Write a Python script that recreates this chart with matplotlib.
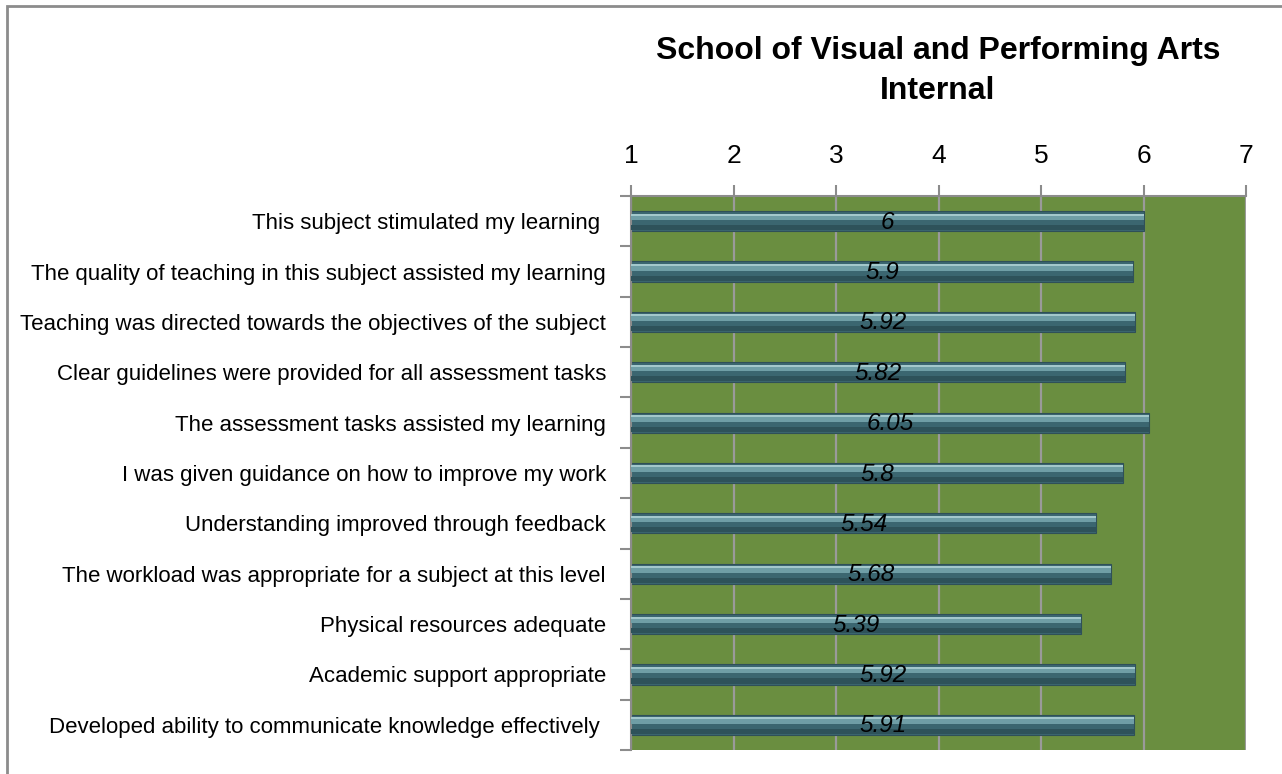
import numpy as np
import matplotlib
matplotlib.use('Agg')
import matplotlib.pyplot as plt
from matplotlib.patches import Rectangle

plt.rcParams['font.family'] = ['Liberation Sans', 'DejaVu Sans']

# data
questions = ['This subject stimulated my learning ',
             'The quality of teaching in this subject assisted my learning',
             'Teaching was directed towards the objectives of the subject',
             'Clear guidelines were provided for all assessment tasks',
             'The assessment tasks assisted my learning',
             'I was given guidance on how to improve my work',
             'Understanding improved through feedback',
             'The workload was appropriate for a subject at this level',
             'Physical resources adequate',
             'Academic support appropriate',
             'Developed ability to communicate knowledge effectively ']
scores = [6, 5.9, 5.92, 5.82, 6.05, 5.8, 5.54, 5.68, 5.39, 5.92, 5.91]
score_labels = ['6', '5.9', '5.92', '5.82', '6.05', '5.8', '5.54', '5.68', '5.39', '5.92', '5.91']
xticks = [1, 2, 3, 4, 5, 6, 7]

W, H = 1282, 774
fig = plt.figure(figsize=(W/100., H/100.), dpi=100)

# outer frame like the spreadsheet chart area
fig.patches.append(Rectangle((7./W, -0.05), 1.2, 1.05-6./H, transform=fig.transFigure,
                             fill=False, edgecolor='#8c8c8c', linewidth=2.0))

ax = fig.add_axes([631./W, 1-750./H, 615./W, 554./H])
ax.set_facecolor('#6a8e40')

y = np.arange(len(questions))
ax.set_xlim(1, 7)
ax.set_ylim(len(questions)-0.5, -0.5)

for xv in xticks:
    ax.axvline(xv, color='#9a9a9a', linewidth=1.6, zorder=1)

# bars: dark body plus lighter bevel strip on top
ax.barh(y, scores, height=0.4, left=0, color='#3b6670', edgecolor='#2f5058',
        linewidth=0.8, zorder=2)
ax.barh(y-0.08, scores, height=0.12, left=0, color='#6f9ea6', linewidth=0, zorder=3)
ax.barh(y-0.13, scores, height=0.04, left=0, color='#a3c8cc', linewidth=0, zorder=3)
ax.barh(y+0.13, scores, height=0.1, left=0, color='#2e525a', linewidth=0, zorder=3)

for yi, s, lab in zip(y, scores, score_labels):
    ax.text((1+s)/2., yi+0.02, lab, ha='center', va='center', fontsize=17.5,
            style='italic', color='black', zorder=4)

ax.xaxis.tick_top()
ax.set_xticks(xticks)
ax.set_xticklabels([str(t) for t in xticks], fontsize=19)
ax.tick_params(axis='x', direction='out', length=8, width=1.5, color='#8c8c8c', pad=12)

ax.set_yticks(np.arange(-0.5, len(questions)), minor=False)
ax.set_yticklabels([])
ax.tick_params(axis='y', which='major', direction='out', length=8, width=1.5, color='#8c8c8c')
ax.set_yticks(y, minor=True)
ax.set_yticklabels(questions, minor=True, fontsize=16)
ax.tick_params(axis='y', which='minor', length=0, pad=18)

for side in ['right', 'bottom']:
    ax.spines[side].set_visible(False)
ax.spines['left'].set_color('#8c8c8c')
ax.spines['left'].set_linewidth(1.5)
ax.spines['top'].set_color('#8c8c8c')
ax.spines['top'].set_linewidth(1.5)

fig.text(938./W, 1-71./H, 'School of Visual and Performing Arts\nInternal',
         ha='center', va='center', fontsize=23, fontweight='bold', linespacing=1.45)

fig.savefig('out.png', dpi=100)
